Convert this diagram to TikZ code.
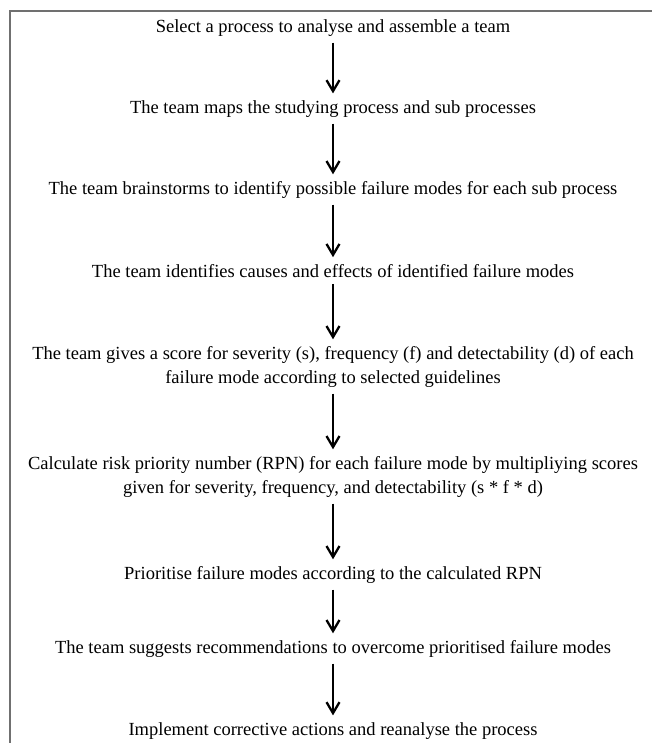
\documentclass[tikz,border=0pt]{standalone}
\usepackage{fontspec}
\setmainfont{Liberation Serif}
\usetikzlibrary{arrows.meta}
\begin{document}
\begin{tikzpicture}[x=1pt,y=-1pt,font=\fontsize{18.5}{24}\selectfont,
  stepbox/.style={inner sep=0pt,align=center},
  flow/.style={-{Straight Barb[length=11pt,width=13pt]},line width=2.3pt,shorten <=6pt,shorten >=7pt}]
  \definecolor{fr}{HTML}{707070}
  \useasboundingbox (0,0) rectangle (652,743);
  % frame (only top and left edges show)
  \draw[fr,line width=1.5pt] (652,11) -- (10,11) -- (10,743);
  % steps
  \node[stepbox] (s1) at (333,28) {Select a process to analyse and assemble a team};
  \node[stepbox] (s2) at (333,109) {The team maps the studying process and sub processes};
  \node[stepbox] (s3) at (333,190) {The team brainstorms to identify possible failure modes for each sub process};
  \node[stepbox] (s4) at (333,271) {The team identifies causes and effects of identified failure modes};
  \node[stepbox] (s5) at (333,367) {The team gives a score for severity (s), frequency (f) and detectability (d) of each\\failure mode according to selected guidelines};
  \node[stepbox] (s6) at (333,477) {Calculate risk priority number (RPN) for each failure mode by multipliying scores\\given for severity, frequency, and detectability (s * f * d)};
  \node[stepbox] (s7) at (333,575) {Prioritise failure modes according to the calculated RPN};
  \node[stepbox] (s8) at (333,649) {The team suggests recommendations to overcome prioritised failure modes};
  \node[stepbox] (s9) at (333,731) {Implement corrective actions and reanalyse the process};
  % arrows
  \foreach \a/\b in {s1/s2,s2/s3,s3/s4,s4/s5,s5/s6,s6/s7,s7/s8,s8/s9}
    \draw[flow] (\a) -- (\b);
\end{tikzpicture}
\end{document}
